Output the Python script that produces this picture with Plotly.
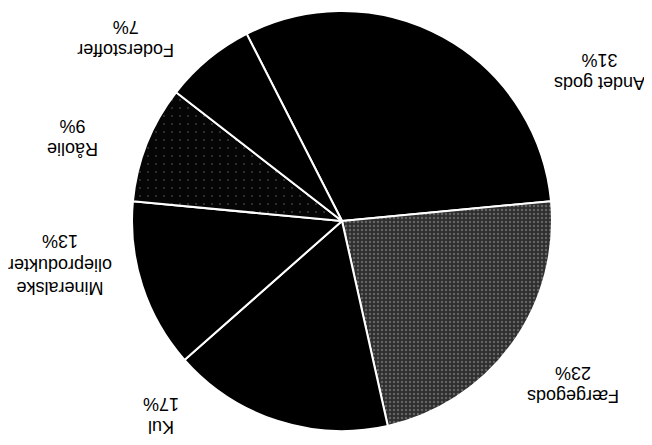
import plotly.graph_objects as go

# Data (order clockwise, starting at Andet gods)
categories = ["Andet gods", "Færgegods", "Kul", "Mineralske<br>olieprodukter", "Råolie", "Foderstoffer"]
shares = [31, 23, 17, 13, 9, 7]
pct_labels = ["31%", "23%", "17%", "13%", "9%", "7%"]

# Styling
slice_colors = ["#000000", "#2e2e2e", "#000000", "#000000", "#050505", "#000000"]
W, H = 652, 445
OFF = 8  # page body margin in the browser
cx, cy, R = 342 - OFF, 221 - OFF, 210

# label block centres in screen pixels (layout only)
label_pos = [(600, 72), (573, 385), (161, 416), (60, 265), (73, 137), (126, 38)]

fig = go.Figure(go.Pie(
    labels=categories,
    values=shares,
    sort=False,
    direction="clockwise",
    rotation=-27,
    textinfo="none",
    hoverinfo="label+percent",
    showlegend=False,
    marker=dict(
        colors=slice_colors,
        line=dict(color="white", width=2),
        pattern=dict(
            shape=["", ".", "", "", ".", ""],
            fgcolor=["#000", "#9a9a9a", "#000", "#000", "#7a7a7a", "#000"],
            bgcolor=slice_colors,
            size=[6, 4, 6, 6, 8, 6],
            solidity=[0.2, 0.3, 0.2, 0.2, 0.04, 0.2],
            fillmode="overlay",
        ),
    ),
    domain=dict(x=[(cx - R) / W, (cx + R) / W], y=[1 - (cy + R) / H, 1 - (cy - R) / H]),
))

for cat, pct, (px, py) in zip(categories, pct_labels, label_pos):
    fig.add_annotation(
        x=(px - OFF) / W, y=1 - (py - OFF) / H, xref="paper", yref="paper",
        text=f"{cat}<br>{pct}", showarrow=False, textangle=180,
        font=dict(family="Arial", size=18, color="black"),
        align="center", xanchor="center", yanchor="middle",
    )

fig.update_layout(
    width=W, height=H,
    margin=dict(l=0, r=0, t=0, b=0),
    paper_bgcolor="white", plot_bgcolor="white",
    font=dict(family="Arial"),
)

fig.write_html("out.html")
